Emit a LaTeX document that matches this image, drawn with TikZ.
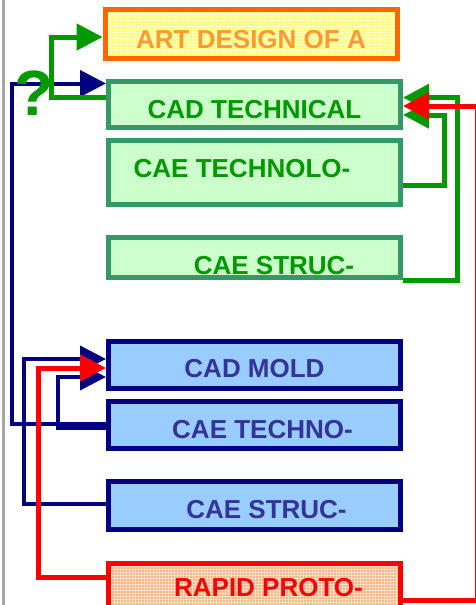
\documentclass[tikz,border=0pt]{standalone}
\usepackage{fontspec}
\setsansfont{Liberation Sans}
\usepackage{xcolor}
\usetikzlibrary{arrows.meta, positioning, patterns}

\definecolor{artline}{HTML}{FF6600}
\definecolor{artfill}{HTML}{FFFF70}
\definecolor{arttext}{HTML}{FF9933}
\definecolor{grnline}{HTML}{339966}
\definecolor{grnfill}{HTML}{CCFFCC}
\definecolor{grndark}{HTML}{009900}
\definecolor{navyline}{HTML}{000080}
\definecolor{blufill}{HTML}{99CCFF}
\definecolor{blutext}{HTML}{333399}
\definecolor{redline}{HTML}{FF0000}
\definecolor{redfill}{HTML}{FFB584}
\definecolor{sidegray}{HTML}{A6A6A6}

\begin{document}
\begin{tikzpicture}[
    x = 1pt, y = -1pt,
    node distance = 8pt,
    box/.style    = {rectangle, line width = 5pt, inner sep = 0pt, minimum width = 292pt},
    artbox/.style = {box, draw = artline, preaction = {fill = artfill},
                     pattern = grid, pattern color = white!60!artfill},
    grnbox/.style = {box, draw = grnline, fill = grnfill},
    blubox/.style = {box, draw = navyline, fill = blufill},
    redbox/.style = {box, draw = redline, preaction = {fill = redfill},
                     pattern = grid, pattern color = white!55!redfill},
    txt/.style    = {anchor = base, inner sep = 0pt,
                     font = \sffamily\bfseries\fontsize{26}{30}\selectfont},
    tip/.style    = {-{Triangle[length=26pt, width=26pt]}},
    grn/.style    = {tip, line width = 5pt, grndark},
    blu/.style    = {tip, line width = 4pt, navyline},
    rd/.style     = {tip, line width = 5pt, redline}
  ]
    \useasboundingbox (0,0) rectangle (476,605);
    \draw[sidegray, line width = 3pt] (3,0) -- (3,605);

    % ── Nodes ────────────────────────────────────────────────────────────────
    \node[artbox, minimum height = 49pt]  (art)       at (251,34)      {};
    \node[grnbox, minimum height = 46pt]  (cadtech)   at (254.5,104.5) {};
    \node[grnbox, minimum height = 64pt, below = of cadtech]       (caetech)   {};
    \node[grnbox, minimum height = 40pt, below = 28pt of caetech]  (caestruc)  {};
    \node[blubox, minimum height = 47pt, below = 59pt of caestruc] (cadmold)   {};
    \node[blubox, minimum height = 47pt, below = of cadmold]       (caetechno) {};
    \node[blubox, minimum height = 48pt, below = 28pt of caetechno](caestrucb) {};
    \node[redbox, minimum height = 46pt, below = 29pt of caestrucb](rapid)     {};

    \node[txt, text = arttext] (arttxt)       at (251,48)    {ART DESIGN OF A};
    \node[txt, text = grndark] (cadtechtxt)   at (254.5,118) {CAD TECHNICAL};
    \node[txt, text = grndark] (caetechtxt)   at (242,177)   {CAE TECHNOLO-};
    \node[txt, text = grndark] (caestructxt)  at (274,274)   {CAE STRUC-};
    \node[txt, text = blutext] (cadmoldtxt)   at (254.5,377) {CAD MOLD};
    \node[txt, text = blutext] (caetechnotxt) at (262.5,438) {CAE TECHNO-};
    \node[txt, text = blutext] (caestrucbtxt) at (266.5,518) {CAE STRUC-};
    \node[txt, text = redline] (rapidtxt)     at (268.5,596) {RAPID PROTO-};

    % ── Arrows ───────────────────────────────────────────────────────────────
    \draw[blu] (caetechno.west |- 0,424) -| (12,83.5) -- (cadtech.west |- 0,83.5);
    \draw[blu] (caestrucb.west |- 0,504) -| (24,359)  -- (cadmold.west |- 0,359);
    \draw[blu] (caetechno.west |- 0,428) -| (58,377)  -- (cadmold.west |- 0,377);

    \draw[grn] (cadtech.west |- 0,97)    -| (51,37)     -- (art.west |- 0,37);
    \draw[grn] (caestruc.east |- 0,280.5) -| (457.5,97.5) -- (cadtech.east |- 0,97.5);
    \draw[grn] (caetech.east |- 0,185)   -| (444,115)   -- (cadtech.east |- 0,115);

    \draw[rd] (rapid.east |- 0,600.5) -| (477.5,106) -- (cadtech.east |- 0,106);
    \draw[rd] (rapid.west |- 0,577)   -| (38,368)  -- (cadmold.west |- 0,368);

    \node[anchor = base, inner sep = 0pt, text = grndark,
          font = \sffamily\bfseries\fontsize{64}{70}\selectfont] (qmark) at (34,115) {?};
  \end{tikzpicture}
\end{document}
